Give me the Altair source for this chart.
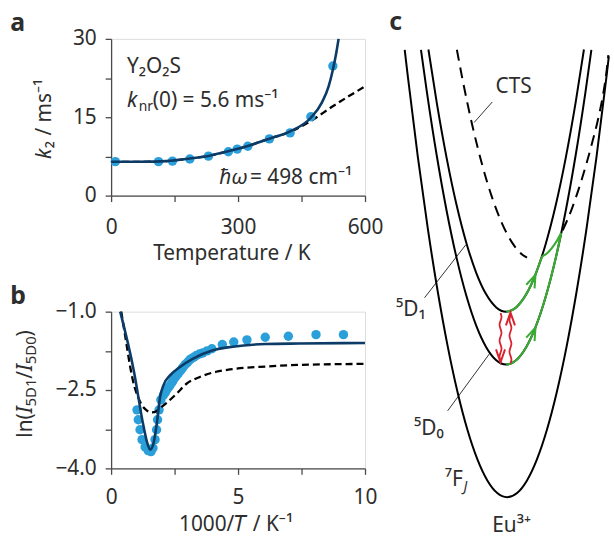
import altair as alt
import pandas as pd

FONT = "Noto Sans"
BLUE = "#2b9fd9"
NAVY = "#0b3b66"
FRAME = "#4a4a4a"
TXT = "#2e2e2e"
GREEN = "#3aaa35"
RED = "#d9232f"
W, H = 256, 158

# ---------------- panel a : k2 vs temperature ----------------
a_T = [10, 112, 145, 186, 230, 277, 298, 323, 374, 423, 472, 524]
a_k2 = [6.5, 6.5, 6.6, 7.0, 7.55, 8.4, 8.9, 9.45, 10.85, 12.0, 15.1, 24.8]
a_fit_T = [0, 60, 100, 131, 186, 230, 277, 323, 374, 423, 472, 498, 514, 524, 532, 537.5]
a_fit_k = [6.47, 6.47, 6.5, 6.6, 7.1, 7.6, 8.5, 9.5, 10.9, 12.3, 14.9, 17.8, 20.9, 24.1, 27.3, 30.0]
a_dash_T = [0, 60, 100, 131, 186, 230, 277, 323, 374, 423, 472, 522, 561, 600]
a_dash_k = [6.47, 6.47, 6.5, 6.6, 7.1, 7.6, 8.5, 9.5, 10.9, 12.2, 14.3, 17.0, 19.0, 20.9]
a_xticks = [0, 150, 300, 450, 600]
a_yticks = [0, 7.5, 15, 22.5, 30]

# ---------------- panel b : ln(I5D1/I5D0) vs 1000/T ----------------
b_x = [1.02, 1.07, 1.14, 1.22, 1.34, 1.46, 1.57, 1.65, 1.73, 1.79, 1.83, 1.89, 1.96, 2.06,
       2.13, 2.19, 2.26, 2.32, 2.39, 2.45, 2.52, 2.58, 2.65, 2.71, 2.78, 2.84, 2.92, 3.01,
       3.08, 3.16, 3.26, 3.36, 3.48, 3.61, 3.78, 3.97, 4.38, 4.83, 5.35, 6.07, 6.98, 8.07, 9.15]
b_y = [-2.88, -3.07, -3.26, -3.45, -3.59, -3.66, -3.68, -3.61, -3.45, -3.26, -3.07, -2.88,
       -2.69, -2.60, -2.55, -2.50, -2.45, -2.41, -2.36, -2.31, -2.26, -2.22, -2.18, -2.14,
       -2.10, -2.06, -2.01, -1.97, -1.93, -1.90, -1.87, -1.84, -1.81, -1.79, -1.75, -1.71,
       -1.63, -1.58, -1.54, -1.49, -1.47, -1.44, -1.44]
b_fit_x = [0.36, 0.89, 1.28, 1.43, 1.54, 1.67, 1.80, 1.93, 2.06, 2.32, 2.71, 3.23, 4.01, 4.79, 6.09, 7.40, 10.0]
b_fit_y = [-1.0, -2.12, -3.20, -3.52, -3.64, -3.52, -3.14, -2.63, -2.41, -2.22, -2.06, -1.90, -1.74, -1.67, -1.62, -1.61, -1.60]
b_dash_x = [0.40, 0.6, 0.75, 0.9, 1.05, 1.2, 1.4, 1.6, 1.8, 2.0, 2.2, 2.58, 2.97, 3.49, 4.14, 4.79, 6.09, 7.40, 10.0]
b_dash_y = [-1.0, -1.6, -2.05, -2.4, -2.62, -2.78, -2.89, -2.93, -2.9, -2.82, -2.74, -2.57, -2.38, -2.25, -2.15, -2.10, -2.05, -2.02, -2.0]
b_xticks = [0, 2.5, 5, 7.5, 10]
b_yticks = [-1, -1.75, -2.5, -3.25, -4]

# ---------------- panel c : configuration-coordinate schematic (picture units) ----------------
c_7F_x = [406.7, 410, 420, 430, 440, 450, 460, 470, 480, 490, 500, 510, 520, 530, 540, 550, 560, 570, 580, 590, 600, 610, 612.5]
c_7F_y = [46.7, 74.7, 155.1, 227, 290.4, 345.4, 391.9, 430, 459.6, 480.8, 493.5, 497.7, 493.5, 480.8, 459.6, 430, 391.9, 345.4, 290.4, 227, 155.1, 74.7, 53.3]
c_5D0_x = [423.1, 429, 439, 449, 459, 469, 479, 489, 499, 509, 519, 529, 539, 549, 559, 569, 579, 589, 594.9]
c_5D0_y = [46.7, 88.8, 153.3, 209.2, 256.5, 295.2, 325.3, 346.8, 359.7, 364, 359.7, 346.8, 325.3, 295.2, 256.5, 209.2, 153.3, 88.8, 46.7]
c_5D1_x = [430.6, 439, 449, 459, 469, 479, 489, 499, 509, 519, 529, 539, 549, 559, 569, 579, 587.4]
c_5D1_y = [46.4, 100, 155.9, 203.2, 241.9, 272, 293.5, 306.4, 310.7, 306.4, 293.5, 272, 241.9, 203.2, 155.9, 100, 46.4]
c_cts_l_x = [459.3, 465, 475, 485, 495, 505, 515, 525, 530]
c_cts_l_y = [46.7, 76.6, 123.5, 163.4, 196.3, 222.2, 241.1, 253, 256.3]
c_cts_r_x = [566, 575, 585, 595, 602, 607, 610, 612]
c_cts_r_y = [228.6, 207.5, 178, 143, 115, 90, 70, 52]
c_g1_x = [509, 514, 519, 524, 529, 534, 539, 543, 545.2, 550, 555, 560, 564.5]
c_g1_y = [310.7, 309.6, 306.4, 301.0, 293.5, 283.8, 272, 261, 255.5, 252.1, 246.7, 239.5, 231.5]
c_g2_x = [509, 514, 519, 524, 529, 534, 539, 544, 549, 554, 559, 564.5]
c_g2_y = [364, 362.9, 359.7, 354.3, 346.8, 337.1, 325.3, 311.3, 295.2, 276.9, 256.5, 231.5]
c_rd_y = [312, 316, 320, 324, 328, 332, 336, 340, 344, 348, 352, 356, 360]
c_rd_x = [503.3, 504.8, 503.3, 501.8, 503.3, 504.8, 503.3, 501.8, 503.3, 504.8, 503.3, 501.8, 503.3]
c_ru_y = [363, 359, 355, 351, 347, 343, 339, 335, 331, 327, 323, 319, 315, 313]
c_ru_x = [513.3, 514.8, 513.3, 511.8, 513.3, 514.8, 513.3, 511.8, 513.3, 514.8, 513.3, 511.8, 513.3, 513.3]
c_head_x = [536, 536, 503.3, 513.3]
c_head_y = [279.4, 332.7, 355.2, 318.0]
c_head_ang = [23.3, 23.3, 180, 0]
c_head_col = ["g", "g", "r", "r"]
c_lead_x1 = [495, 426.7, 450]
c_lead_y1 = [99.3, 296.7, 410.7]
c_lead_x2 = [476.7, 468.3, 493]
c_lead_y2 = [120, 243.3, 352]
c_lab_t = ["CTS", "⁵D₁", "⁵D₀", "⁷F", "Eu³⁺"]
c_lab_x = [516.5, 398, 416, 447, 495]
c_lab_y = [90.5, 315, 435, 486, 533]
c_lab_al = ["center", "left", "left", "left", "left"]

# ================= build =================
one = pd.DataFrame({"z": [0]})


def ptext(text, x, y, size=21, style="normal", weight="normal", align="left", angle=0):
    kw = dict(text=text, font=FONT, fontSize=size, fontStyle=style, fontWeight=weight,
              align=align, baseline="alphabetic", color=TXT)
    if angle:
        kw["angle"] = angle
    return alt.Chart(one).mark_text(**kw).encode(x=alt.value(x), y=alt.value(y))


def mk_axis(values, expr, pad, fmt=None):
    d = dict(values=values, labelExpr=expr, title=None, grid=False, tickSize=6, tickWidth=1.3,
             tickColor=FRAME, domainColor=FRAME, domainWidth=1.3, labelFont=FONT,
             labelFontSize=21, labelColor=TXT, labelPadding=pad, labelFlush=False,
             labelOverlap=False)
    if fmt:
        d["format"] = fmt
    return alt.Axis(**d)


# ---- panel a
ax_x = alt.X("T:Q", scale=alt.Scale(domain=[0, 600], nice=False, zero=False),
             axis=mk_axis(a_xticks, "datum.value % 300 === 0 ? datum.label : ''", 15))
ax_y = alt.Y("k:Q", scale=alt.Scale(domain=[0, 30], nice=False, zero=False),
             axis=mk_axis(a_yticks, "datum.value % 15 === 0 ? datum.label : ''", 9))

a_pts = alt.Chart(pd.DataFrame({"T": a_T, "k": a_k2})).mark_circle(
    size=90, color=BLUE, opacity=1).encode(x=ax_x, y=ax_y)
a_fit = alt.Chart(pd.DataFrame({"T": a_fit_T, "k": a_fit_k})).mark_line(
    color=NAVY, strokeWidth=2.6, interpolate="monotone").encode(x=ax_x, y=ax_y)
a_dash = alt.Chart(pd.DataFrame({"T": a_dash_T, "k": a_dash_k})).mark_line(
    color="black", strokeWidth=2.3, strokeDash=[7, 4], interpolate="monotone").encode(x=ax_x, y=ax_y)

anchor = alt.Chart(one).mark_rule(opacity=0, strokeWidth=0.01).encode(
    x=alt.value(-110.7), x2=alt.value(-110.7), y=alt.value(-35.7), y2=alt.value(-35.7))

a_main = alt.layer(
    a_dash, a_pts, a_fit, anchor,
    ptext("a", -101.7, -7.7, size=25, weight="bold"),
    ptext("k", -60.7, 121, style="italic", angle=270),
    ptext("₂ / ms⁻¹", -60.7, 110.3, angle=270),
    ptext("Temperature / K", 121.8, 222.6, align="center"),
    ptext("Y₂O₂S", 16, 34.3),
    ptext("k", 16, 68.3, style="italic"),
    ptext("nr", 27.8, 72.3, size=14),
    ptext("(0) = 5.6 ms⁻¹", 42, 68.3),
    ptext("ħω", 109, 146, style="italic"),
    ptext(" = 498 cm⁻¹", 140, 146),
)

# ---- panel c (layered on panel a with its own scales)
xs = alt.Scale(domain=[0, 614], range=[-110.7, 503.3], nice=False, zero=False)
ys = alt.Scale(domain=[0, 537], range=[-35.7, 501.3], nice=False, zero=False)
cx = alt.X("px:Q", scale=xs, axis=None)
cy = alt.Y("py:Q", scale=ys, axis=None)

curves = pd.concat([
    pd.DataFrame({"px": c_7F_x, "py": c_7F_y, "c": "7F"}),
    pd.DataFrame({"px": c_5D0_x, "py": c_5D0_y, "c": "5D0"}),
    pd.DataFrame({"px": c_5D1_x, "py": c_5D1_y, "c": "5D1"}),
])
cts = pd.concat([
    pd.DataFrame({"px": c_cts_l_x, "py": c_cts_l_y, "c": "L"}),
    pd.DataFrame({"px": c_cts_r_x, "py": c_cts_r_y, "c": "R"}),
])
greens = pd.concat([
    pd.DataFrame({"px": c_g1_x, "py": c_g1_y, "c": "g1"}),
    pd.DataFrame({"px": c_g2_x, "py": c_g2_y, "c": "g2"}),
])
reds = pd.concat([
    pd.DataFrame({"px": c_rd_x, "py": c_rd_y, "c": "d", "i": range(len(c_rd_x))}),
    pd.DataFrame({"px": c_ru_x, "py": c_ru_y, "c": "u", "i": range(len(c_ru_x))}),
])
heads = pd.DataFrame({"px": c_head_x, "py": c_head_y, "ang": c_head_ang, "col": c_head_col})
leads = pd.DataFrame({"px": c_lead_x1, "py": c_lead_y1, "px2": c_lead_x2, "py2": c_lead_y2})
labs = pd.DataFrame({"px": c_lab_x, "py": c_lab_y, "t": c_lab_t, "al": c_lab_al})

c_curves = alt.Chart(curves).mark_line(color="black", strokeWidth=2, interpolate="monotone").encode(
    x=cx, y=cy, detail="c:N")
c_cts = alt.Chart(cts).mark_line(color="black", strokeWidth=2, strokeDash=[11, 7],
                                 interpolate="monotone").encode(x=cx, y=cy, detail="c:N")
c_green = alt.Chart(greens).mark_line(color=GREEN, strokeWidth=2.2, interpolate="monotone").encode(
    x=cx, y=cy, detail="c:N")
c_red = alt.Chart(reds).mark_line(color=RED, strokeWidth=1.8, interpolate="basis").encode(
    x=cx, y=cy, detail="c:N", order="i:Q")
c_heads = alt.Chart(heads).mark_point(
    shape="M -0.7 1 L 0 -1 L 0.7 1", filled=False, size=169, strokeWidth=2, opacity=1).encode(
    x=cx, y=cy, angle=alt.Angle("ang:Q", scale=None),
    color=alt.Color("col:N", scale=alt.Scale(domain=["g", "r"], range=[GREEN, RED]), legend=None))
c_leads = alt.Chart(leads).mark_rule(color="black", strokeWidth=0.8).encode(
    x=cx, y=cy, x2="px2:Q", y2="py2:Q")
c_lab_l = alt.Chart(labs[labs.al == "left"]).mark_text(
    font=FONT, fontSize=21, align="left", baseline="alphabetic", color=TXT).encode(x=cx, y=cy, text="t:N")
c_lab_c = alt.Chart(labs[labs.al == "center"]).mark_text(
    font=FONT, fontSize=21, align="center", baseline="alphabetic", color=TXT).encode(x=cx, y=cy, text="t:N")
c_J = alt.Chart(pd.DataFrame({"px": [466], "py": [491], "t": ["J"]})).mark_text(
    font=FONT, fontSize=14, fontStyle="italic", align="left", baseline="alphabetic", color=TXT).encode(
    x=cx, y=cy, text="t:N")
c_c = alt.Chart(pd.DataFrame({"px": [391], "py": [27], "t": ["c"]})).mark_text(
    font=FONT, fontSize=25, fontWeight="bold", align="left", baseline="alphabetic", color=TXT).encode(
    x=cx, y=cy, text="t:N")

c_main = alt.layer(c_curves, c_cts, c_green, c_red, c_heads, c_leads, c_lab_l, c_lab_c, c_J, c_c)

a_chart = alt.layer(a_main, c_main).resolve_scale(x="independent", y="independent").properties(
    width=W, height=H)

# ---- panel b
bx = alt.X("x:Q", scale=alt.Scale(domain=[0, 10], nice=False, zero=False),
           axis=mk_axis(b_xticks, "datum.value % 5 === 0 ? datum.label : ''", 12))
by = alt.Y("y:Q", scale=alt.Scale(domain=[-4, -1], nice=False, zero=False),
           axis=mk_axis(b_yticks, "abs((datum.value + 1) % 1.5) < 0.01 ? datum.label : ''", 9, ".1f"))

b_pts = alt.Chart(pd.DataFrame({"x": b_x, "y": b_y})).mark_circle(
    size=90, color=BLUE, opacity=1).encode(x=bx, y=by)
b_fit = alt.Chart(pd.DataFrame({"x": b_fit_x, "y": b_fit_y})).mark_line(
    color=NAVY, strokeWidth=2.6, interpolate="monotone").encode(x=bx, y=by)
b_dash = alt.Chart(pd.DataFrame({"x": b_dash_x, "y": b_dash_y})).mark_line(
    color="black", strokeWidth=2.3, strokeDash=[7, 4], interpolate="monotone").encode(x=bx, y=by)

b_chart = alt.layer(
    b_pts, b_dash, b_fit,
    ptext("b", -101.7, -8, size=25, weight="bold"),
    ptext("1000/𝑇 / K⁻¹", 126, 221.5, align="center"),
    ptext("ln(", -79.7, 127, angle=270),
    ptext("I", -79.7, 102.5, style="italic", angle=270),
    ptext("5D1", -76, 95.5, size=15, angle=270),
    ptext("/", -79.7, 67.7, angle=270),
    ptext("I", -79.7, 59.9, style="italic", angle=270),
    ptext("5D0", -76, 52.9, size=15, angle=270),
    ptext(")", -79.7, 25.1, angle=270),
).properties(width=W, height=H)

chart = alt.vconcat(a_chart, b_chart, spacing=117, bounds="flush").properties(
    padding=0
).configure_view(stroke=FRAME, strokeWidth=1.3).configure(font=FONT)

chart.save("out.html", embed_options={"renderer": "svg", "actions": False})
